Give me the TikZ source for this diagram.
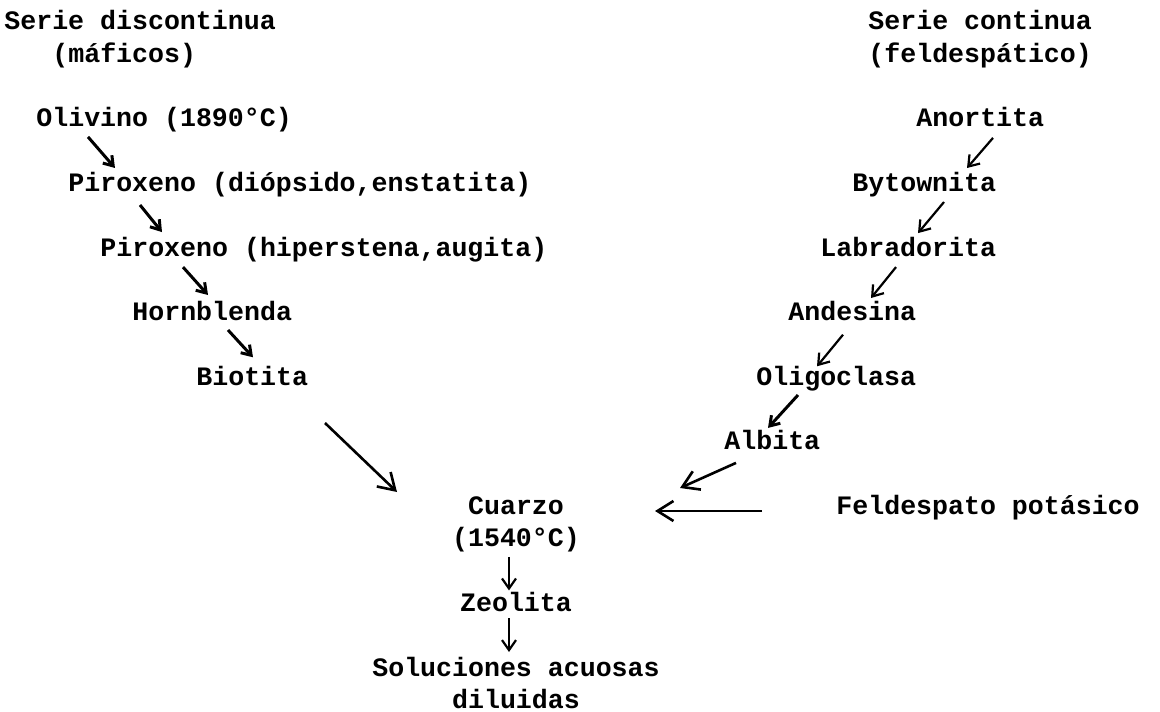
\documentclass[tikz,border=0pt]{standalone}
\usepackage{fontspec}
\setmonofont{Liberation Mono}
\usetikzlibrary{arrows.meta}

\begin{document}
\begin{tikzpicture}[x=0.5pt,y=-0.5pt,
	txt/.style={anchor=base west,inner sep=0pt,font=\ttfamily\bfseries\fontsize{13.3}{16}\selectfont},
	ctxt/.style={txt,anchor=base},
	flecha/.style={-{Straight Barb[length=4.5pt,width=6pt]},line width=1.5pt},
	flechaf/.style={-{Straight Barb[length=5pt,width=7pt]},line width=1.1pt},
	flechag/.style={-{Straight Barb[length=8pt,width=10pt]},line width=1.3pt}]
	\useasboundingbox (0,0) rectangle (1160,711);
	% titulos
	\node[txt] (sdisc) at (4,30) {Serie discontinua};
	\node[txt] (maf) at (52,62.3) {(máficos)};
	\node[txt] (scont) at (868,30) {Serie continua};
	\node[txt] (feld) at (868,62.3) {(feldespático)};
	% serie discontinua
	\node[txt] (oli) at (36,126.9) {Olivino (1890°C)};
	\node[txt] (pirA) at (68,191.5) {Piroxeno (diópsido,enstatita)};
	\node[txt] (pirB) at (100,256.1) {Piroxeno (hiperstena,augita)};
	\node[txt] (horn) at (132,320.7) {Hornblenda};
	\node[txt] (bio) at (196,385.3) {Biotita};
	% serie continua
	\node[txt] (ano) at (916,126.9) {Anortita};
	\node[txt] (byt) at (852,191.5) {Bytownita};
	\node[txt] (lab) at (820,256.1) {Labradorita};
	\node[txt] (and) at (788,320.7) {Andesina};
	\node[txt] (oligo) at (756,385.3) {Oligoclasa};
	\node[txt] (alb) at (724,449.9) {Albita};
	\node[txt] (kfeld) at (836,514.5) {Feldespato potásico};
	% centro
	\node[ctxt] (cuarzo) at (516,514.5) {Cuarzo};
	\node[ctxt] (tcuarzo) at (516,546.8) {(1540°C)};
	\node[ctxt] (zeo) at (516,611.4) {Zeolita};
	\node[ctxt] (sol) at (516,676) {Soluciones acuosas};
	\node[ctxt] (dil) at (516,708.3) {diluidas};
	% flechas izquierda
	\draw[flecha] ([shift={(52,10)}]oli.base west) -- ([shift={(47,-23.5)}]pirA.base west);
	\draw[flecha] ([shift={(72,13.5)}]pirA.base west) -- ([shift={(62,-24)}]pirB.base west);
	\draw[flecha] ([shift={(83,11)}]pirB.base west) -- ([shift={(76,-25.7)}]horn.base west);
	\draw[flecha] ([shift={(96,9.3)}]horn.base west) -- ([shift={(57,-28)}]bio.base west);
	\draw[flechag] ([shift={(129,37.7)}]bio.base west) -- ([shift={(-119,-22.5)}]cuarzo.base);
	% flechas derecha
	\draw[flechaf] ([shift={(77,11)}]ano.base west) -- ([shift={(115,-23.5)}]byt.base west);
	\draw[flechaf] ([shift={(92,10.5)}]byt.base west) -- ([shift={(98,-23)}]lab.base west);
	\draw[flechaf] ([shift={(76,11)}]lab.base west) -- ([shift={(83,-22.7)}]and.base west);
	\draw[flechaf] ([shift={(55,14)}]and.base west) -- ([shift={(61,-19)}]oligo.base west);
	\draw[flecha] ([shift={(42,9.7)}]oligo.base west) -- ([shift={(44,-22)}]alb.base west);
	\draw[flechag] ([shift={(12,13)}]alb.base west) -- ([shift={(164,-26.5)}]cuarzo.base);
	\draw[flechag] ([shift={(-74,-3.5)}]kfeld.base west) -- ([shift={(139,-3.5)}]cuarzo.base);
	% flechas centro
	\draw[flechaf] ([shift={(-7,10)}]tcuarzo.base) -- ([shift={(-7,-21)}]zeo.base);
	\draw[flechaf] ([shift={(-7,7)}]zeo.base) -- ([shift={(-7,-24)}]sol.base);
\end{tikzpicture}
\end{document}
